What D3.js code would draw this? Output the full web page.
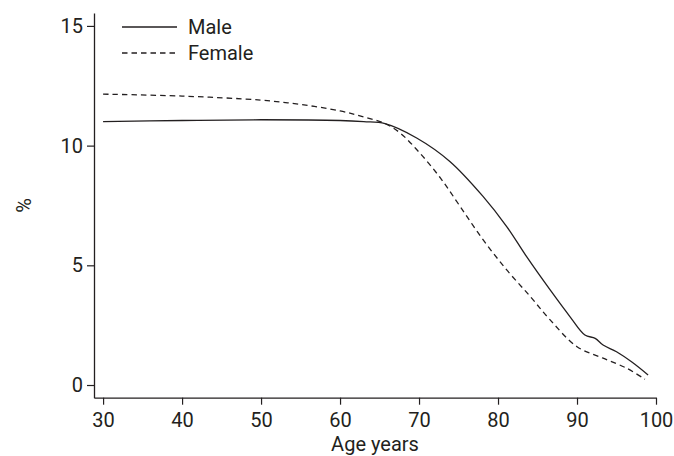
<!DOCTYPE html>
<html>
<head>
<meta charset="utf-8">
<script src="https://cdn.jsdelivr.net/npm/d3@7"></script>
<style>
  body { margin: 0; background: #fff; }
  svg { display: block; }
</style>
</head>
<body>
<svg id="chart" width="674" height="456"></svg>
<script>
// ages (years) and % values
const maleAges = [30, 40, 50, 60, 63, 65.7, 69.7, 73.9, 78.1, 81.1, 83.6, 86.6, 89.1, 91.0, 92.3, 93.3, 95.0, 96.9, 99.0];
const maleValues = [11.00, 11.05, 11.08, 11.05, 11.00, 10.92, 10.32, 9.34, 7.88, 6.62, 5.37, 3.97, 2.86, 2.09, 1.95, 1.67, 1.39, 0.97, 0.42];

const femaleAges = [30, 40, 50, 55, 60, 63, 65.7, 67.6, 70.1, 72.7, 75.2, 78.1, 81.1, 84.1, 86.6, 90.0, 93.3, 96.3, 98.6];
const femaleValues = [12.15, 12.07, 11.90, 11.72, 11.45, 11.20, 10.92, 10.53, 9.69, 8.65, 7.46, 6.07, 4.81, 3.69, 2.72, 1.60, 1.12, 0.70, 0.24];

const xTicks = [30, 40, 50, 60, 70, 80, 90, 100];
const yTicks = [0, 5, 10, 15];

const seriesNames = ['Male', 'Female'];
const seriesDash = [null, '5.5,4'];

const font = 'Roboto, "DejaVu Sans", sans-serif';
const fontSize = 20;
const ink = '#231f20';

const svg = d3.select('#chart');

const x = d3.scaleLinear().domain([28.85, 100]).range([94, 656]);
const y = d3.scaleLinear().domain([-0.53, 15.54]).range([397.7, 13]);

const xAxis = svg.append('g')
  .attr('transform', `translate(0,${y(-0.53)})`)
  .call(d3.axisBottom(x).tickValues(xTicks).tickSize(7).tickPadding(8).tickSizeOuter(0));

const yAxis = svg.append('g')
  .attr('transform', `translate(${x(28.85)},0)`)
  .call(d3.axisLeft(y).tickValues(yTicks).tickSize(7).tickPadding(4).tickSizeOuter(0));

[xAxis, yAxis].forEach(g => {
  g.select('.domain').attr('stroke', ink).attr('stroke-width', 1.3);
  g.selectAll('.tick line').attr('stroke', ink).attr('stroke-width', 1.2);
  g.selectAll('.tick text')
    .attr('fill', ink)
    .attr('font-family', font)
    .attr('font-size', fontSize);
});

svg.append('text')
  .attr('x', (x(28.85) + x(100)) / 2)
  .attr('y', 451)
  .attr('text-anchor', 'middle')
  .attr('font-family', font)
  .attr('font-size', fontSize)
  .attr('fill', ink)
  .text('Age years');

svg.append('text')
  .attr('transform', `translate(31,${(y(-0.53) + y(15.54)) / 2}) rotate(-90)`)
  .attr('text-anchor', 'middle')
  .attr('font-family', font)
  .attr('font-size', fontSize)
  .attr('fill', ink)
  .text('%');

const line = d3.line()
  .x(d => x(d[0]))
  .y(d => y(d[1]))
  .curve(d3.curveCatmullRom.alpha(0.5));

const series = [
  d3.zip(maleAges, maleValues),
  d3.zip(femaleAges, femaleValues)
];

svg.append('g')
  .selectAll('path')
  .data(series)
  .join('path')
    .attr('d', line)
    .attr('fill', 'none')
    .attr('stroke', ink)
    .attr('stroke-width', 1.3)
    .attr('stroke-dasharray', (d, i) => seriesDash[i]);

// legend
const legend = svg.append('g')
  .selectAll('g')
  .data(seriesNames)
  .join('g')
    .attr('transform', (d, i) => `translate(122,${27 + i * 26})`);

legend.append('line')
  .attr('x1', 0).attr('x2', 55)
  .attr('stroke', ink)
  .attr('stroke-width', 1.3)
  .attr('stroke-dasharray', (d, i) => seriesDash[i]);

legend.append('text')
  .attr('x', 66)
  .attr('dy', '0.35em')
  .attr('font-family', font)
  .attr('font-size', fontSize)
  .attr('fill', ink)
  .text(d => d);
</script>
</body>
</html>
